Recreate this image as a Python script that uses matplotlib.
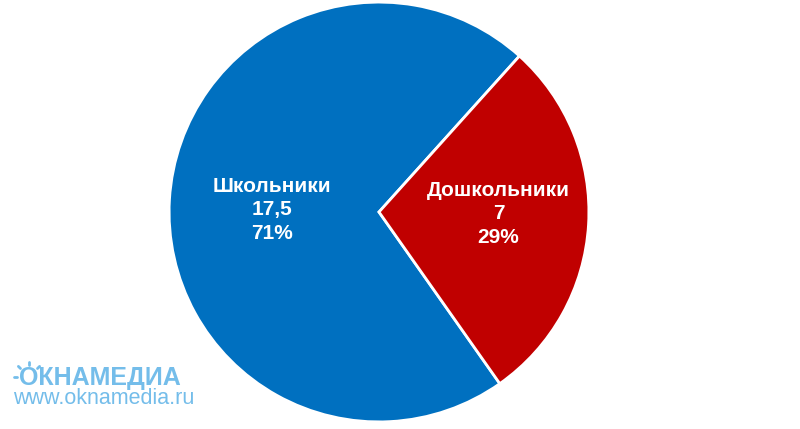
import numpy as np
import matplotlib.pyplot as plt

plt.rcParams['font.family'] = ['Liberation Sans', 'DejaVu Sans']

# данные
labels = ["Школьники", "Дошкольники"]
values = [17.5, 7]
value_text = ["17,5", "7"]
colors = ["#0070C0", "#C00000"]

fig = plt.figure(figsize=(8, 4.29), dpi=100)
ax = fig.add_axes([167 / 800, 5 / 429, 424 / 800, 424 / 429])

wedges, _ = ax.pie(values, colors=colors, startangle=48, counterclock=True,
                   wedgeprops=dict(edgecolor="white", linewidth=2), radius=1)
ax.set_xlim(-1.01, 1.01)
ax.set_ylim(-1.01, 1.01)
ax.set_aspect("equal")

total = sum(values)
dists = [0.51, 0.57]
dys = [-0.02, 0.025]
for w, lab, vt, v, d, dy in zip(wedges, labels, value_text, values, dists, dys):
    ang = np.deg2rad((w.theta1 + w.theta2) / 2)
    pct = round(v / total * 100)
    ax.text(d * np.cos(ang), d * np.sin(ang) + dy, f"{lab}\n{vt}\n{pct}%",
            ha="center", va="center", color="white", fontsize=15,
            fontweight="bold", linespacing=1.3)

# водяной знак
wm = "#74BDEA"
fig.text(19 / 800, 1 - 378 / 429, "ОКНАМЕДИА", color=wm, fontsize=18,
         fontweight="bold", va="center", ha="left")
fig.text(13 / 800, 1 - 399 / 429, "www.oknamedia.ru", color=wm, fontsize=15.5,
         va="center", ha="left")
# лучики солнца над буквой О
cx, cy = 29, 377
for a in [90, 135, 45, 180]:
    r0, r1 = 12, 15
    ra = np.deg2rad(a)
    fig.add_artist(plt.Line2D([(cx + r0 * np.cos(ra)) / 800, (cx + r1 * np.cos(ra)) / 800],
                              [1 - (cy - r0 * np.sin(ra)) / 429, 1 - (cy - r1 * np.sin(ra)) / 429],
                              color=wm, linewidth=2, solid_capstyle="round"))

fig.savefig("out.png", dpi=100)
